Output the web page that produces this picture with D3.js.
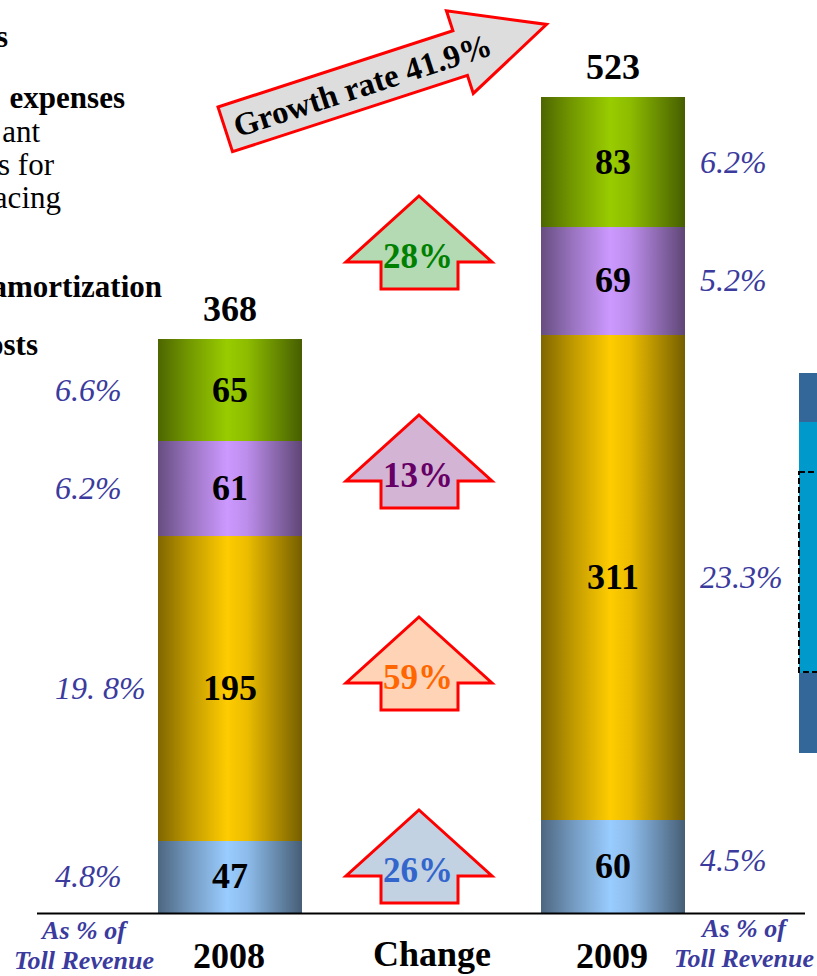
<!DOCTYPE html>
<html>
<head>
<meta charset="utf-8">
<script src="https://cdn.jsdelivr.net/npm/d3@7"></script>
<style>
  html, body { margin: 0; padding: 0; background: #fff; overflow: hidden; }
  svg { display: block; font-family: "Liberation Serif", "Times New Roman", serif; }
</style>
</head>
<body>
<svg id="chart" width="817" height="976"></svg>
<script>
// Cost components (bottom to top of each stacked column)
const years = ["2008", "2009"];
const seriesKeys = ["personnel", "maintenance", "depreciation", "other"];
const values2008 = [47, 195, 61, 65];
const values2009 = [60, 311, 69, 83];
const totals = [368, 523];
const share2008 = ["4.8%", "19. 8%", "6.2%", "6.6%"];
const share2009 = ["4.5%", "23.3%", "5.2%", "6.2%"];
const changeLabels = ["26%", "59%", "13%", "28%"];
const growthLabel = "Growth rate 41.9%";
const changeTitle = "Change";
const shareTitle = ["As % of", "Toll Revenue"];
const sideNotes = [
  { text: "s", bold: true },
  { text: "expenses", bold: true },
  { text: "ant", bold: false },
  { text: "s for", bold: false },
  { text: "acing", bold: false },
  { text: "amortization", bold: true },
  { text: "osts", bold: true }
];

// Styling
const baseColors = ["#99CCFF", "#FFCC00", "#CC99FF", "#99CC00"];
const arrowFills = ["#C2D2E2", "#FFD4B6", "#D4B4D4", "#B4DAB4"];
const arrowText = ["#3366CC", "#FF6600", "#660066", "#008000"];
const arrowTops = [810, 617, 415, 196];
const shareColor = "#3B3B9E";
const notePos = [[8, 47], [125, 108], [40, 142], [54, 175], [61, 208], [162, 297], [38, 355]];

const svg = d3.select("#chart");
const defs = svg.append("defs");

const x = d3.scaleBand().domain(years).range([158, 685]).paddingInner(0.624).paddingOuter(0);
const y = d3.scaleLinear().domain([0, 523]).range([913, 97]);
const yr = v => Math.round(y(v));

// Cylinder-like horizontal shading for each component
baseColors.forEach((c, i) => {
  const g = defs.append("linearGradient").attr("id", "grad" + i)
    .attr("x1", "0%").attr("x2", "100%").attr("y1", "0%").attr("y2", "0%");
  const dark = t => d3.interpolateRgb("#000000", c)(t);
  g.append("stop").attr("offset", "0%").attr("stop-color", dark(0.5));
  g.append("stop").attr("offset", "22%").attr("stop-color", dark(0.75));
  g.append("stop").attr("offset", "48%").attr("stop-color", c);
  g.append("stop").attr("offset", "62%").attr("stop-color", dark(0.92));
  g.append("stop").attr("offset", "100%").attr("stop-color", dark(0.46));
});

const rows = years.map((yrLabel, i) => {
  const vals = i === 0 ? values2008 : values2009;
  const r = { year: yrLabel };
  seriesKeys.forEach((k, j) => r[k] = vals[j]);
  return r;
});
const stacked = d3.stack().keys(seriesKeys)(rows);

// Stacked columns
stacked.forEach((layer, i) => {
  svg.append("g").attr("shape-rendering", "crispEdges").selectAll("rect").data(layer).join("rect")
    .attr("x", d => x(d.data.year))
    .attr("width", x.bandwidth())
    .attr("y", d => yr(d[1]))
    .attr("height", d => yr(d[0]) - yr(d[1]) + (i === 0 ? 0 : 1))
    .attr("fill", `url(#grad${i})`);
});
stacked.forEach(layer => {
  svg.append("g").selectAll("text").data(layer).join("text")
    .attr("x", d => x(d.data.year) + x.bandwidth() / 2)
    .attr("y", d => (y(d[0]) + y(d[1])) / 2 + 12)
    .attr("text-anchor", "middle")
    .attr("font-size", 36).attr("font-weight", "bold").attr("fill", "#000")
    .text(d => d[1] - d[0]);
});

// Totals above columns
svg.append("g").selectAll("text").data(years).join("text")
  .attr("x", d => x(d) + x.bandwidth() / 2)
  .attr("y", (d, i) => y(totals[i]) - 18)
  .attr("text-anchor", "middle")
  .attr("font-size", 36).attr("font-weight", "bold")
  .text((d, i) => totals[i]);

// Share of toll revenue beside each column
const seg2008 = stacked.map(l => l[0]);
const seg2009 = stacked.map(l => l[1]);
svg.append("g").selectAll("text").data(seg2008).join("text")
  .attr("x", 55).attr("y", d => (y(d[0]) + y(d[1])) / 2 + 11)
  .attr("font-size", 32).attr("font-style", "italic").attr("fill", shareColor)
  .text((d, i) => share2008[i]);
svg.append("g").selectAll("text").data(seg2009).join("text")
  .attr("x", 700).attr("y", (d, i) => (y(d[0]) + y(d[1])) / 2 + 11 - (i === 0 ? 6 : 0))
  .attr("font-size", 32).attr("font-style", "italic").attr("fill", shareColor)
  .text((d, i) => share2009[i]);

// Baseline
svg.append("line").attr("x1", 37).attr("x2", 805).attr("y1", 913.5).attr("y2", 913.5)
  .attr("stroke", "#000").attr("stroke-width", 2);

// Change arrows between the columns
const midX = (x("2008") + x.bandwidth() + x("2009")) / 2 - 2.5;
const arrowPath = "M0,0 L73,66 L39,66 L39,93 L-38,93 L-38,66 L-73,66 Z";
const ag = svg.append("g").selectAll("g").data(changeLabels).join("g")
  .attr("transform", (d, i) => `translate(${midX},${arrowTops[i]})`);
ag.append("path").attr("d", arrowPath)
  .attr("fill", (d, i) => arrowFills[i]).attr("stroke", "#FF0000").attr("stroke-width", 3)
  .attr("stroke-linejoin", "miter");
ag.append("text").attr("x", -1).attr("y", 72).attr("text-anchor", "middle")
  .attr("font-size", 35).attr("font-weight", "bold")
  .attr("fill", (d, i) => arrowText[i]).text(d => d);

// Overall growth arrow
const gg = svg.append("g").attr("transform", "translate(218,107) rotate(-18)");
gg.append("path").attr("d", "M0,0 L247,0 L247,-21 L338,23 L247,66 L247,47 L0,47 Z")
  .attr("fill", "#DDDDDD").attr("stroke", "#FF0000").attr("stroke-width", 3);
gg.append("text").attr("x", 144).attr("y", 35).attr("text-anchor", "middle")
  .attr("font-size", 32.5).attr("font-weight", "bold").text(growthLabel);

// Category labels under the axis
svg.append("g").selectAll("text").data(years).join("text")
  .attr("x", d => x(d) + x.bandwidth() / 2 - 1).attr("y", 968)
  .attr("text-anchor", "middle").attr("font-size", 36).attr("font-weight", "bold")
  .text(d => d);
svg.append("text").attr("x", midX + 13).attr("y", 966).attr("text-anchor", "middle")
  .attr("font-size", 36).attr("font-weight", "bold").text(changeTitle);

[[84, 939, 969], [744, 937, 967]].forEach(([cx, y1, y2]) => {
  svg.append("text").attr("x", cx).attr("y", y1).attr("text-anchor", "middle")
    .attr("font-size", 26).attr("font-weight", "bold").attr("font-style", "italic")
    .attr("fill", shareColor).text(shareTitle[0]);
  svg.append("text").attr("x", cx).attr("y", y2).attr("text-anchor", "middle")
    .attr("font-size", 26).attr("font-weight", "bold").attr("font-style", "italic")
    .attr("fill", shareColor).text(shareTitle[1]);
});

// Side notes running in from the left margin
svg.append("g").selectAll("text").data(sideNotes).join("text")
  .attr("x", (d, i) => notePos[i][0]).attr("y", (d, i) => notePos[i][1])
  .attr("text-anchor", "end").attr("font-size", 31)
  .attr("font-weight", d => d.bold ? "bold" : "normal")
  .text(d => d.text);

// Neighbouring panel at the right margin
const panel = svg.append("g");
panel.append("rect").attr("x", 799).attr("y", 373).attr("width", 30).attr("height", 380).attr("fill", "#336699");
panel.append("rect").attr("x", 799).attr("y", 422).attr("width", 30).attr("height", 251).attr("fill", "#0099CC");
panel.append("rect").attr("x", 799).attr("y", 472).attr("width", 40).attr("height", 200)
  .attr("fill", "none").attr("stroke", "#000").attr("stroke-width", 2).attr("stroke-dasharray", "6,3");
</script>
</body>
</html>
